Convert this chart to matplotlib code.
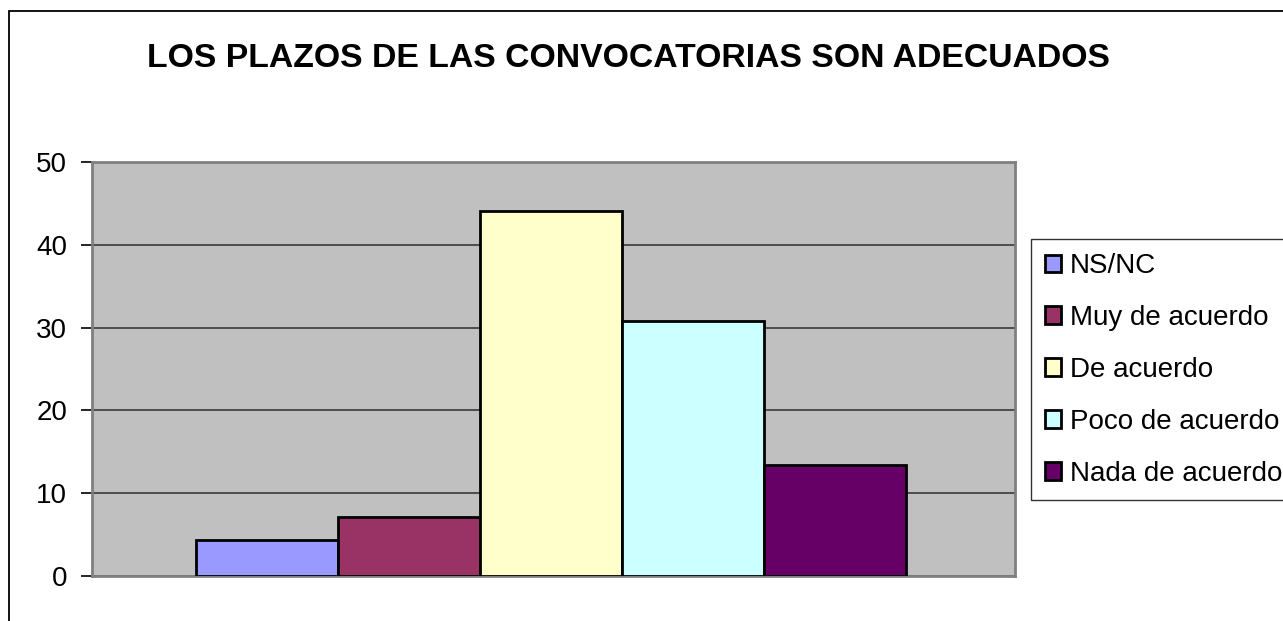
import matplotlib
matplotlib.use("Agg")
from matplotlib import pyplot
from matplotlib.patches import Rectangle

# data
categorias = ["NS/NC", "Muy de acuerdo", "De acuerdo", "Poco de acuerdo", "Nada de acuerdo"]
valores = [4.3, 7.1, 44.1, 30.8, 13.4]
colores = ["#9999FF", "#993366", "#FFFFCC", "#CCFFFF", "#660066"]
yticks = [0, 10, 20, 30, 40, 50]
titulo = "LOS PLAZOS DE LAS CONVOCATORIAS SON ADECUADOS"

pyplot.rcParams['font.family'] = ['Liberation Sans', 'DejaVu Sans']

W, H = 1283, 621
fig = pyplot.figure(figsize=(W / 100, H / 100), dpi=100)
fig.patch.set_facecolor('white')

# chart area border (cropped on right and bottom)
fig.patches.append(Rectangle((9 / W, -0.1), 1.2, 1 - 11 / H + 0.1, transform=fig.transFigure,
                             fill=False, edgecolor='black', linewidth=1.3, zorder=0))

ax = fig.add_axes([92 / W, 1 - 575.5 / H, (1015 - 92) / W, (575.5 - 162.3) / H])
ax.set_facecolor('#C0C0C0')

n = len(valores)
w = 1.0 / (n + 1.5)
for i in range(n):
    ax.bar((i - (n - 1) / 2) * w, valores[i], width=w, color=colores[i],
           edgecolor='black', linewidth=2, label=categorias[i], zorder=3)

ax.set_xlim(-0.497, 0.503)
ax.set_ylim(0, 50)
ax.set_yticks(yticks)
ax.set_xticks([])
ax.yaxis.grid(True, color='#3a3a3a', linewidth=1.2, zorder=1)
ax.set_axisbelow(True)
for s in ax.spines.values():
    s.set_color('#808080')
    s.set_linewidth(2)
ax.tick_params(axis='y', length=8, width=1.2, color='black', labelsize=20, pad=10)

fig.text(0.4895, 0.906, titulo, ha='center', va='center', fontsize=24.3, fontweight='bold')

leg = fig.legend(loc='upper left', bbox_to_anchor=(1030.7 / W, 1 - 239.3 / H), fontsize=20,
                 frameon=True, fancybox=False, shadow=False, borderpad=0.5,
                 handlelength=0.6, handleheight=0.6, handletextpad=0.3, labelspacing=0.93,
                 borderaxespad=0)
leg.get_frame().set_edgecolor('black')
leg.get_frame().set_linewidth(1)

fig.savefig('out.png', dpi=100)
